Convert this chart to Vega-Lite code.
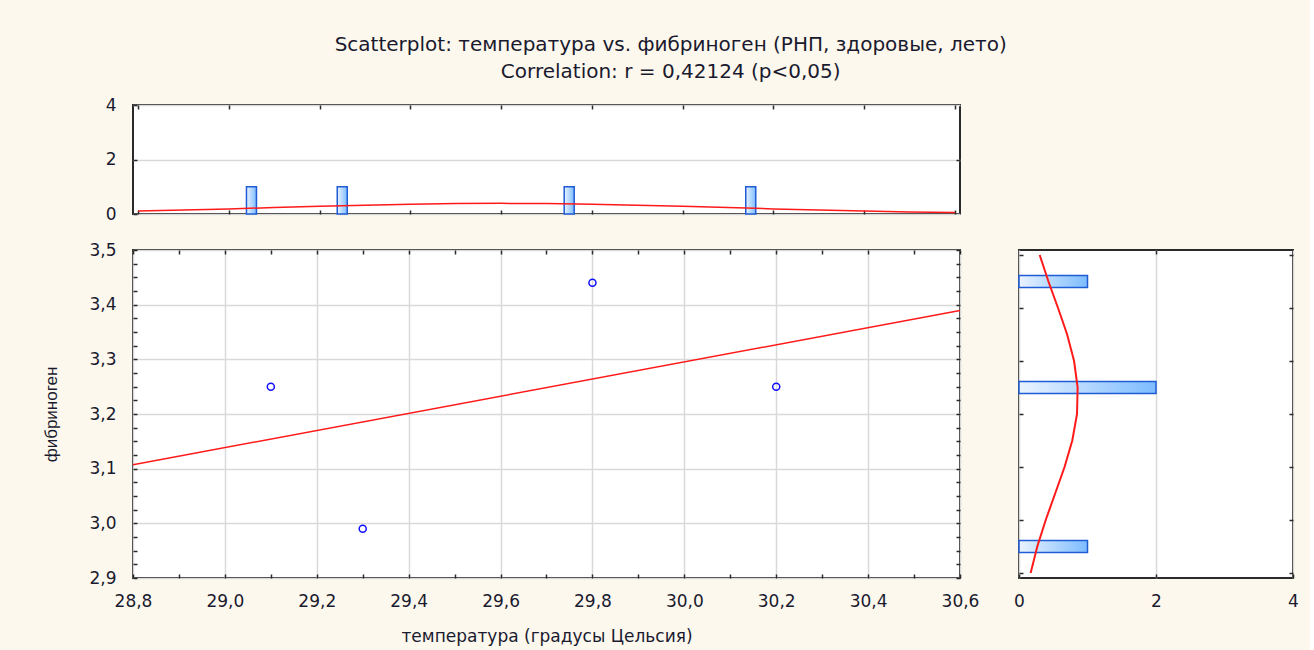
{
  "$schema": "https://vega.github.io/schema/vega-lite/v6.json",
  "background": "#fdf8ee",
  "padding": {"left": 41, "top": 35, "right": 10, "bottom": 5},
  "title": {
    "text": "Scatterplot: температура vs. фибриноген (РНП, здоровые, лето)",
    "subtitle": "Correlation: r = 0,42124 (p<0,05)",
    "anchor": "middle",
    "font": "DejaVu Sans",
    "fontSize": 20,
    "fontWeight": "normal",
    "color": "#1a1a2e",
    "subtitleFont": "DejaVu Sans",
    "subtitleFontSize": 20,
    "subtitleColor": "#1a1a2e",
    "subtitlePadding": 7,
    "offset": 13
  },
  "datasets": {
    "obs": [
      {"temp": 29.1, "fib": 3.25},
      {"temp": 29.3, "fib": 2.99},
      {"temp": 29.8, "fib": 3.44},
      {"temp": 30.2, "fib": 3.25}
    ],
    "tempHist": [
      {"temp_bin": 29.05, "count": 1},
      {"temp_bin": 29.25, "count": 1},
      {"temp_bin": 29.75, "count": 1},
      {"temp_bin": 30.15, "count": 1}
    ],
    "fibHist": [
      {"fib_bin": 2.95, "count": 1},
      {"fib_bin": 3.25, "count": 2},
      {"fib_bin": 3.45, "count": 1}
    ],
    "tempCurve": [
      {"temp": 28.8, "density": 0.107},
      {"temp": 28.9, "density": 0.144},
      {"temp": 29.0, "density": 0.188},
      {"temp": 29.1, "density": 0.235},
      {"temp": 29.2, "density": 0.282},
      {"temp": 29.3, "density": 0.325},
      {"temp": 29.4, "density": 0.360},
      {"temp": 29.5, "density": 0.382},
      {"temp": 29.6, "density": 0.390},
      {"temp": 29.7, "density": 0.382},
      {"temp": 29.8, "density": 0.360},
      {"temp": 29.9, "density": 0.325},
      {"temp": 30.0, "density": 0.282},
      {"temp": 30.1, "density": 0.235},
      {"temp": 30.2, "density": 0.188},
      {"temp": 30.3, "density": 0.144},
      {"temp": 30.4, "density": 0.107},
      {"temp": 30.5, "density": 0.076},
      {"temp": 30.6, "density": 0.051}
    ],
    "fibCurve": [
      {"fib": 2.90, "density": 0.170},
      {"fib": 2.95, "density": 0.267},
      {"fib": 3.00, "density": 0.390},
      {"fib": 3.05, "density": 0.528},
      {"fib": 3.10, "density": 0.665},
      {"fib": 3.15, "density": 0.778},
      {"fib": 3.20, "density": 0.847},
      {"fib": 3.25, "density": 0.856},
      {"fib": 3.30, "density": 0.804},
      {"fib": 3.35, "density": 0.703},
      {"fib": 3.40, "density": 0.570},
      {"fib": 3.45, "density": 0.430},
      {"fib": 3.50, "density": 0.302}
    ]
  },
  "columns": 2,
  "spacing": {"row": 17, "column": 32},
  "concat": [
    {
      "width": 827,
      "height": 109,
      "layer": [
        {
          "data": {"name": "tempHist"},
          "mark": {
            "type": "bar",
            "orient": "vertical",
            "size": 10,
            "stroke": "#1f5bd4",
            "strokeWidth": 1.5,
            "fill": {
              "gradient": "linear", "x1": 0, "y1": 0, "x2": 1, "y2": 0,
              "stops": [{"offset": 0, "color": "#eaf3ff"}, {"offset": 1, "color": "#7dbcff"}]
            }
          },
          "encoding": {
            "x": {
              "field": "temp_bin", "type": "quantitative",
              "scale": {"domain": [28.8, 30.6], "nice": false, "zero": false},
              "axis": {"orient": "bottom", "values": [28.8, 29.0, 29.2, 29.4, 29.6, 29.8, 30.0, 30.2, 30.4, 30.6], "labels": false, "grid": false, "title": null}
            },
            "y": {
              "field": "count", "type": "quantitative",
              "scale": {"domain": [0, 4], "nice": false},
              "axis": {"orient": "left", "values": [0, 2, 4], "format": "d", "grid": true, "title": null, "labelPadding": 21}
            }
          }
        },
        {
          "data": {"name": "tempCurve"},
          "mark": {"type": "line", "color": "#ff1a1a", "strokeWidth": 1.5},
          "encoding": {
            "x": {
              "field": "temp", "type": "quantitative",
              "axis": {"orient": "top", "values": [28.8, 29.0, 29.2, 29.4, 29.6, 29.8, 30.0, 30.2, 30.4, 30.6], "labels": false, "grid": false, "title": null}
            },
            "y": {
              "field": "density", "type": "quantitative",
              "axis": {"orient": "right", "values": [2], "labels": false, "grid": false, "title": null}
            }
          }
        }
      ]
    },
    {
      "width": 274,
      "height": 109,
      "view": {"fill": null, "stroke": null},
      "data": {"values": [{}]},
      "mark": {"type": "text", "text": ""}
    },
    {
      "width": 827,
      "height": 328,
      "layer": [
        {
          "data": {"name": "obs"},
          "mark": {"type": "point", "shape": "circle", "filled": false, "color": "#1010ff", "size": 50, "strokeWidth": 1.5, "opacity": 1},
          "encoding": {
            "x": {
              "field": "temp", "type": "quantitative",
              "scale": {"domain": [28.8, 30.6], "nice": false, "zero": false},
              "axis": {
                "orient": "bottom",
                "values": [28.8, 28.9, 29.0, 29.1, 29.2, 29.3, 29.4, 29.5, 29.6, 29.7, 29.8, 29.9, 30.0, 30.1, 30.2, 30.3, 30.4, 30.5, 30.6],
                "labelExpr": "abs(datum.value * 5 - round(datum.value * 5)) < 0.01 ? replace(format(datum.value, '.1f'), '.', ',') : ''",
                "gridOpacity": {"condition": {"test": "abs(datum.value * 5 - round(datum.value * 5)) < 0.01", "value": 1}, "value": 0},
                "labelPadding": 19,
                "title": "температура (градусы Цельсия)",
                "titlePadding": 19
              }
            },
            "y": {
              "field": "fib", "type": "quantitative",
              "scale": {"domain": [2.9, 3.5], "nice": false, "zero": false},
              "axis": {
                "orient": "left",
                "values": [2.9, 2.925, 2.95, 2.975, 3.0, 3.025, 3.05, 3.075, 3.1, 3.125, 3.15, 3.175, 3.2, 3.225, 3.25, 3.275, 3.3, 3.325, 3.35, 3.375, 3.4, 3.425, 3.45, 3.475, 3.5],
                "labelExpr": "abs(datum.value * 10 - round(datum.value * 10)) < 0.01 ? replace(format(datum.value, '.1f'), '.', ',') : ''",
                "gridOpacity": {"condition": {"test": "abs(datum.value * 10 - round(datum.value * 10)) < 0.01", "value": 1}, "value": 0},
                "labelPadding": 21,
                "title": "фибриноген",
                "titleFont": "Liberation Sans",
                "titleFontSize": 17,
                "titlePadding": 28
              }
            }
          }
        },
        {
          "data": {"name": "obs"},
          "transform": [{"regression": "fib", "on": "temp", "extent": [28.8, 30.6]}],
          "mark": {"type": "line", "color": "#ff1a1a", "strokeWidth": 1.5},
          "encoding": {
            "x": {
              "field": "temp", "type": "quantitative",
              "axis": {"orient": "top", "values": [28.8, 28.9, 29.0, 29.1, 29.2, 29.3, 29.4, 29.5, 29.6, 29.7, 29.8, 29.9, 30.0, 30.1, 30.2, 30.3, 30.4, 30.5, 30.6], "labels": false, "grid": false, "title": null}
            },
            "y": {
              "field": "fib", "type": "quantitative",
              "axis": {"orient": "right", "values": [2.9, 2.925, 2.95, 2.975, 3.0, 3.025, 3.05, 3.075, 3.1, 3.125, 3.15, 3.175, 3.2, 3.225, 3.25, 3.275, 3.3, 3.325, 3.35, 3.375, 3.4, 3.425, 3.45, 3.475, 3.5], "labels": false, "grid": false, "title": null}
            }
          }
        }
      ]
    },
    {
      "width": 274,
      "height": 328,
      "layer": [
        {
          "data": {"name": "fibHist"},
          "mark": {
            "type": "bar",
            "orient": "horizontal",
            "size": 12,
            "stroke": "#1f5bd4",
            "strokeWidth": 1.5,
            "fill": {
              "gradient": "linear", "x1": 0, "y1": 0, "x2": 1, "y2": 0,
              "stops": [{"offset": 0, "color": "#eaf3ff"}, {"offset": 1, "color": "#7dbcff"}]
            }
          },
          "encoding": {
            "y": {
              "field": "fib_bin", "type": "quantitative",
              "scale": {"domain": [2.9, 3.5], "nice": false, "zero": false},
              "axis": {"orient": "left", "values": [2.9, 3.0, 3.1, 3.2, 3.3, 3.4, 3.5], "labels": false, "grid": false, "title": null}
            },
            "x": {
              "field": "count", "type": "quantitative",
              "scale": {"domain": [0, 4], "nice": false},
              "axis": {"orient": "bottom", "values": [0, 2, 4], "format": "d", "grid": true, "title": null, "labelPadding": 19}
            }
          }
        },
        {
          "data": {"name": "fibCurve"},
          "mark": {"type": "line", "color": "#ff1a1a", "strokeWidth": 2},
          "encoding": {
            "y": {
              "field": "fib", "type": "quantitative",
              "axis": {"orient": "right", "values": [2.9, 3.0, 3.1, 3.2, 3.3, 3.4, 3.5], "labels": false, "grid": false, "title": null}
            },
            "x": {
              "field": "density", "type": "quantitative",
              "axis": {"orient": "top", "values": [2], "labels": false, "grid": false, "title": null}
            },
            "order": {"field": "fib", "type": "quantitative"}
          }
        }
      ]
    }
  ],
  "config": {
    "view": {"fill": "white", "stroke": "#2a2a2a", "strokeWidth": 2},
    "axis": {
      "domain": false,
      "minExtent": 0,
      "labelFont": "DejaVu Sans",
      "labelFontSize": 17,
      "labelColor": "#1a1a2e",
      "labelFlush": false,
      "labelOverlap": false,
      "tickColor": "#2a2a2a",
      "tickSize": -4,
      "tickWidth": 1.5,
      "gridColor": "#d9d9d9",
      "gridWidth": 1.5,
      "titleFont": "DejaVu Sans",
      "titleFontSize": 17,
      "titleFontWeight": "normal",
      "titleColor": "#1a1a2e"
    },
    "axisX": {"minExtent": 0},
    "axisY": {"minExtent": 0}
  }
}
